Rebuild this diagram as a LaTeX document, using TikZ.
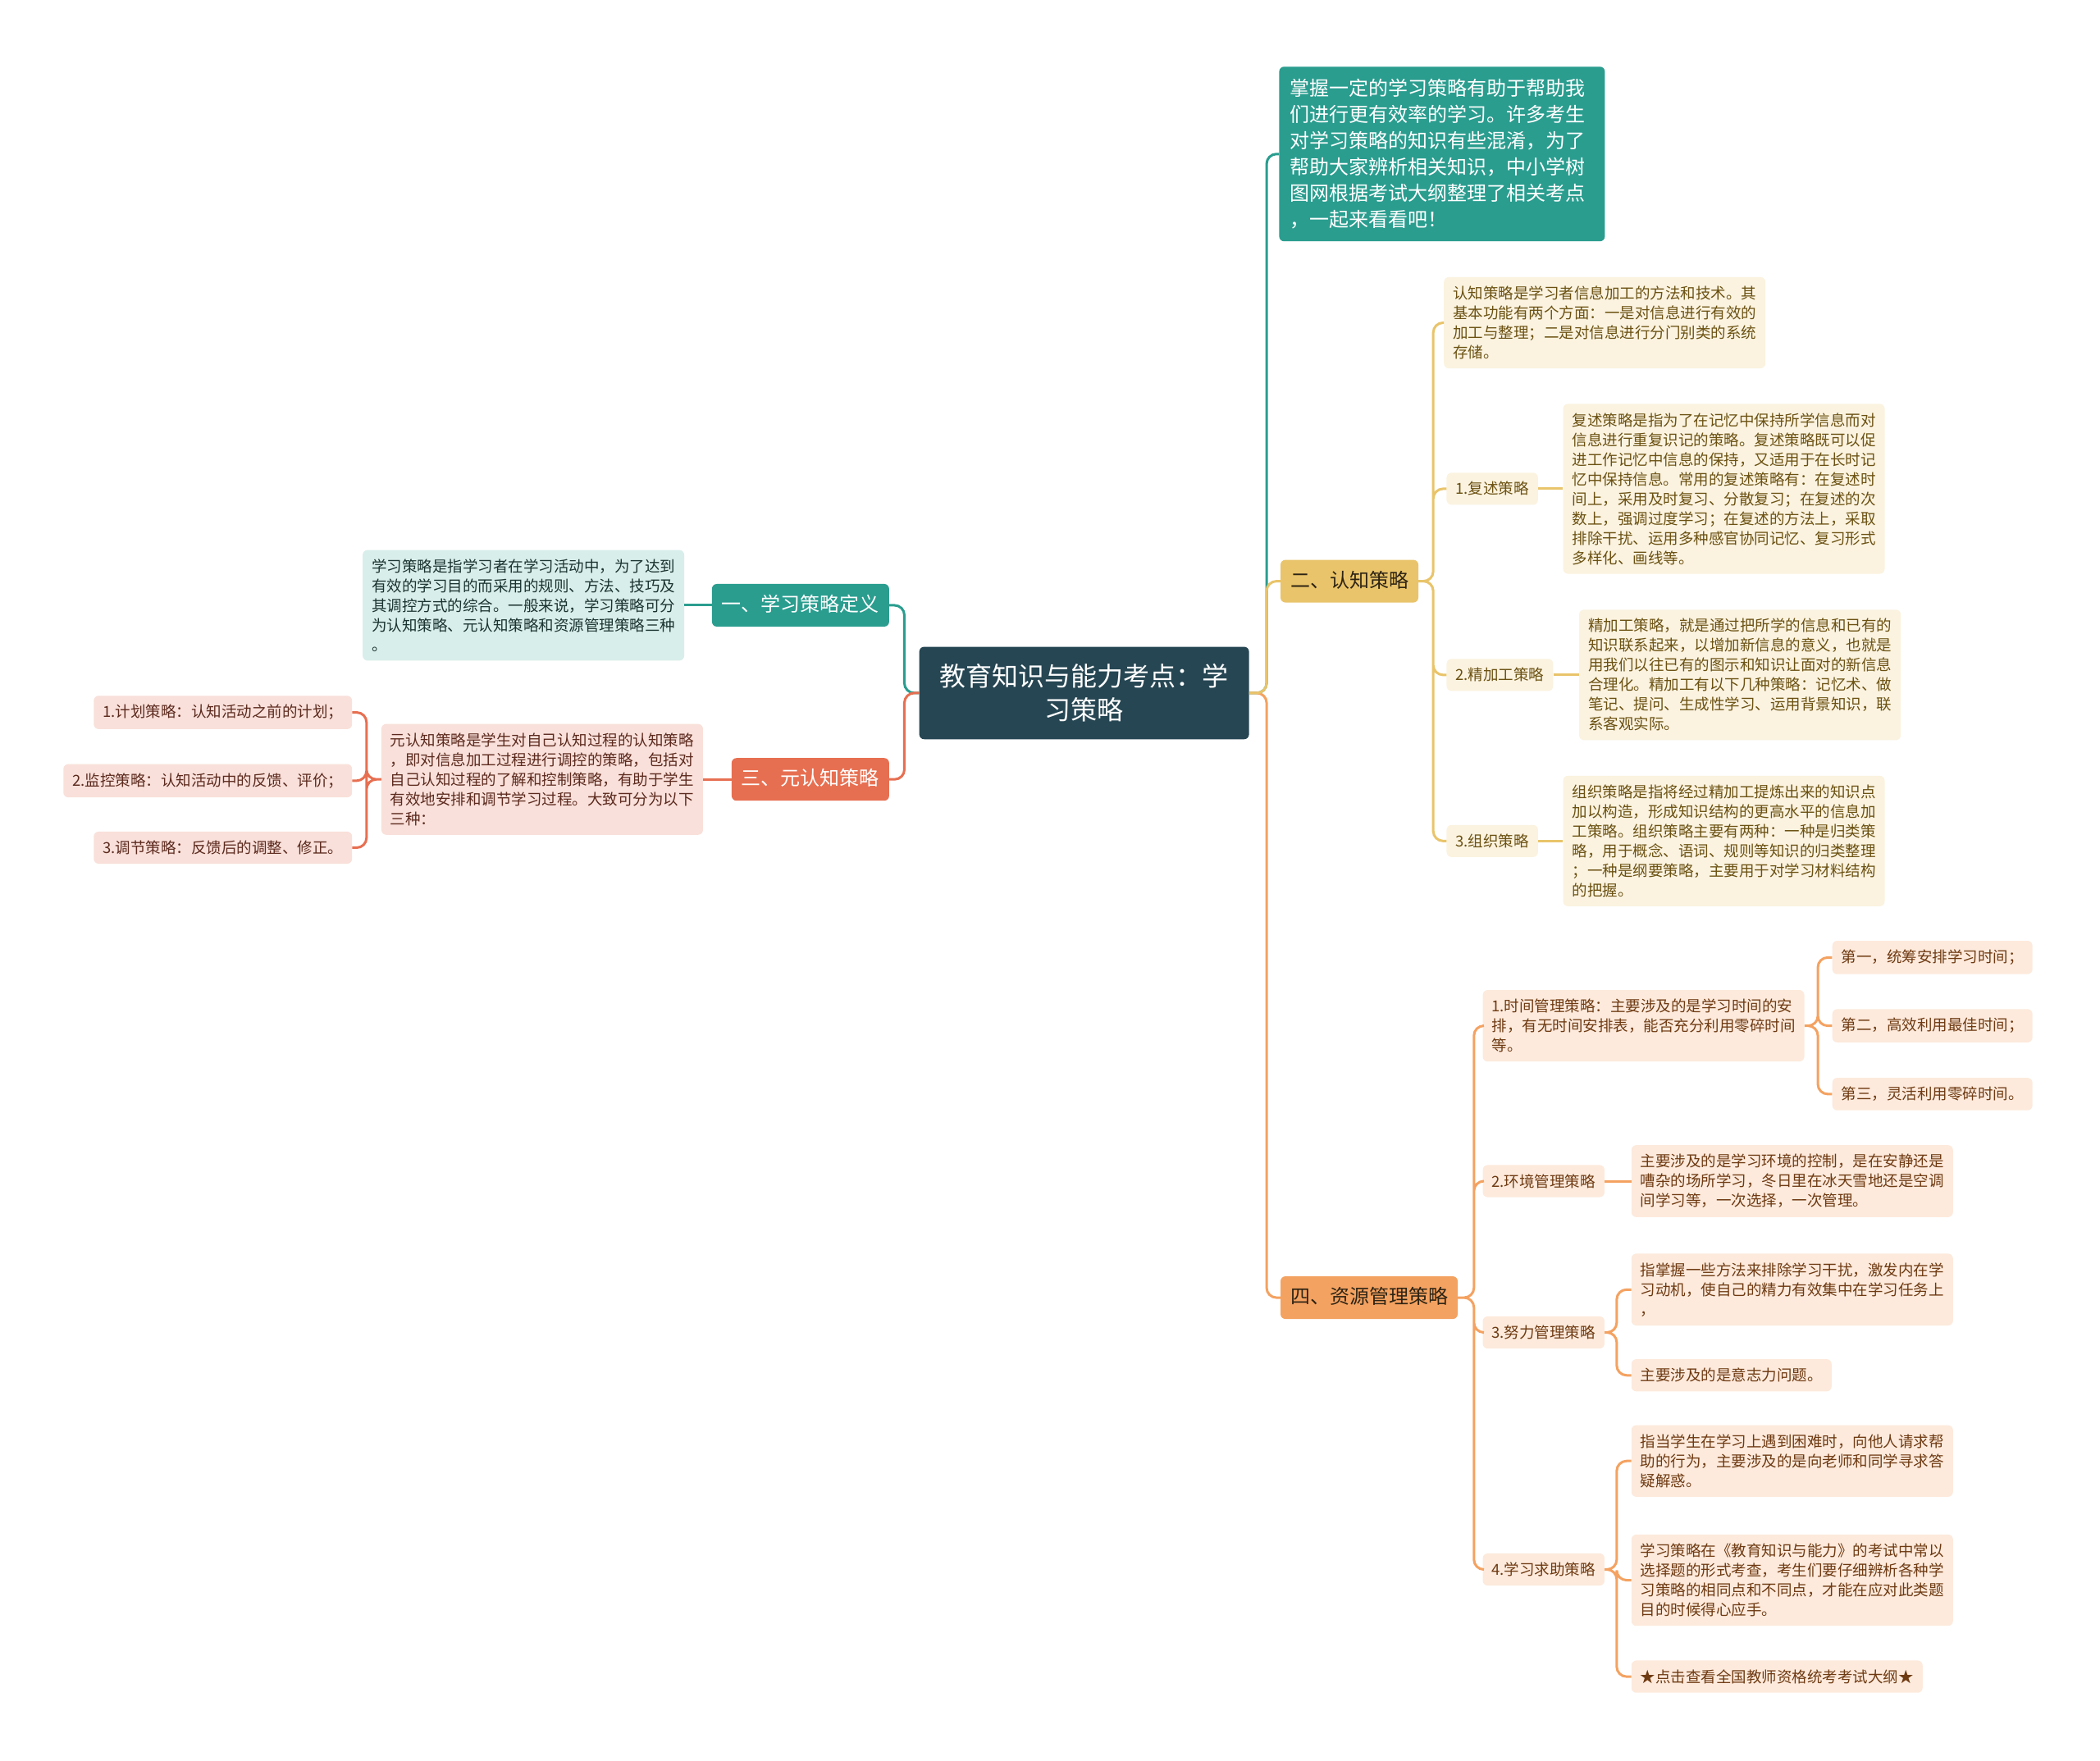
\documentclass[tikz,border=0pt]{standalone}
\usepackage{fontspec}
\setmainfont{Noto Sans CJK SC}
\usepackage{xcolor}
\usepackage{tikz}

\definecolor{slate}{HTML}{264653}
\definecolor{teal0}{HTML}{2A9D8F}
\definecolor{gold0}{HTML}{E9C46A}
\definecolor{orng0}{HTML}{F4A261}
\definecolor{coral0}{HTML}{E76F51}
\definecolor{tealbg}{HTML}{D8EEEB}
\definecolor{goldbg}{HTML}{FBF3E0}
\definecolor{orngbg}{HTML}{FDEADC}
\definecolor{coralbg}{HTML}{F9E0DA}
\definecolor{tealtx}{HTML}{1B3330}
\definecolor{goldtx}{HTML}{6B5112}
\definecolor{orngtx}{HTML}{6E3A12}
\definecolor{coraltx}{HTML}{5C2A1E}
\definecolor{darktx}{HTML}{2E2414}

\begin{document}
\begin{tikzpicture}[x=1.6327pt,y=-1.6327pt,
  box/.style={rounded corners=6pt,align=left,inner xsep=11pt,inner ysep=11pt,font=\fontsize{18.5pt}{24pt}\selectfont},
  main/.style={rounded corners=6pt,inner xsep=12pt,inner ysep=13.5pt,text height=20pt,text depth=5pt,font=\fontsize{24pt}{30pt}\selectfont},
  tealleaf/.style={box,fill=tealbg,text=tealtx},
  goldleaf/.style={box,fill=goldbg,text=goldtx},
  orngleaf/.style={box,fill=orngbg,text=orngtx},
  coralleaf/.style={box,fill=coralbg,text=coraltx},
  link/.style={line width=3pt,rounded corners=12pt}]
        \fill[white] (0,0) rectangle (1568,1315);

        %root
        \node[style={fill=slate,text=white,rounded corners=6pt,align=center,inner xsep=25pt,inner ysep=21pt,font=\fontsize{32pt}{41pt}\selectfont}] (root) at (809.5,517.5) {教育知识与能力考点：学\\习策略};

        %intro note
        \node[style={fill=teal0,text=white,rounded corners=6pt,align=left,text width=371pt,inner xsep=13pt,inner ysep=15pt,font=\fontsize{24pt}{32pt}\selectfont},anchor=west] (top) at (955,115) {掌握一定的学习策略有助于帮助我\\们进行更有效率的学习。许多考生\\对学习策略的知识有些混淆，为了\\帮助大家辨析相关知识，中小学树\\图网根据考试大纲整理了相关考点\\，一起来看看吧！};

        %left: definition
        \node[main,fill=teal0,text=white,anchor=east] (defn) at (664,452) {一、学习策略定义};
        \node[tealleaf,anchor=east] (deftxt) at (511,452) {学习策略是指学习者在学习活动中，为了达到\\有效的学习目的而采用的规则、方法、技巧及\\其调控方式的综合。一般来说，学习策略可分\\为认知策略、元认知策略和资源管理策略三种\\。};

        %left: metacognition
        \node[main,fill=coral0,text=white,anchor=east] (meta) at (664,582) {三、元认知策略};
        \node[coralleaf,anchor=east] (metatxt) at (525,582) {元认知策略是学生对自己认知过程的认知策略\\，即对信息加工过程进行调控的策略，包括对\\自己认知过程的了解和控制策略，有助于学生\\有效地安排和调节学习过程。大致可分为以下\\三种：};
        \node[coralleaf,anchor=east] (plan) at (263,532) {1.计划策略：认知活动之前的计划；};
        \node[coralleaf,anchor=east] (monitor) at (263,583) {2.监控策略：认知活动中的反馈、评价；};
        \node[coralleaf,anchor=east] (adjust) at (263,633) {3.调节策略：反馈后的调整、修正。};

        %right: cognition
        \node[main,fill=gold0,text=darktx,anchor=west] (cog) at (956,434) {二、认知策略};
        \node[goldleaf,anchor=west] (cogtxt) at (1078,241) {认知策略是学习者信息加工的方法和技术。其\\基本功能有两个方面：一是对信息进行有效的\\加工与整理；二是对信息进行分门别类的系统\\存储。};
        \node[goldleaf,anchor=west] (rehe) at (1080,365) {1.复述策略};
        \node[goldleaf,anchor=west] (rehetxt) at (1167,365) {复述策略是指为了在记忆中保持所学信息而对\\信息进行重复识记的策略。复述策略既可以促\\进工作记忆中信息的保持，又适用于在长时记\\忆中保持信息。常用的复述策略有：在复述时\\间上，采用及时复习、分散复习；在复述的次\\数上，强调过度学习；在复述的方法上，采取\\排除干扰、运用多种感官协同记忆、复习形式\\多样化、画线等。};
        \node[goldleaf,anchor=west] (elab) at (1080,504) {2.精加工策略};
        \node[goldleaf,anchor=west] (elabtxt) at (1179,504) {精加工策略，就是通过把所学的信息和已有的\\知识联系起来，以增加新信息的意义，也就是\\用我们以往已有的图示和知识让面对的新信息\\合理化。精加工有以下几种策略：记忆术、做\\笔记、提问、生成性学习、运用背景知识，联\\系客观实际。};
        \node[goldleaf,anchor=west] (orga) at (1080,628) {3.组织策略};
        \node[goldleaf,anchor=west] (orgatxt) at (1167,628) {组织策略是指将经过精加工提炼出来的知识点\\加以构造，形成知识结构的更高水平的信息加\\工策略。组织策略主要有两种：一种是归类策\\略，用于概念、语词、规则等知识的归类整理\\；一种是纲要策略，主要用于对学习材料结构\\的把握。};

        %right: resource management
        \node[main,fill=orng0,text=darktx,anchor=west] (res) at (956,969) {四、资源管理策略};
        \node[orngleaf,anchor=west] (time) at (1107,766) {1.时间管理策略：主要涉及的是学习时间的安\\排，有无时间安排表，能否充分利用零碎时间\\等。};
        \node[orngleaf,anchor=west] (t1) at (1368,715) {第一，统筹安排学习时间；};
        \node[orngleaf,anchor=west] (t2) at (1368,766) {第二，高效利用最佳时间；};
        \node[orngleaf,anchor=west] (t3) at (1368,817) {第三，灵活利用零碎时间。};
        \node[orngleaf,anchor=west] (env) at (1107,882) {2.环境管理策略};
        \node[orngleaf,anchor=west] (envtxt) at (1218,882) {主要涉及的是学习环境的控制，是在安静还是\\嘈杂的场所学习，冬日里在冰天雪地还是空调\\间学习等，一次选择，一次管理。};
        \node[orngleaf,anchor=west] (eff) at (1107,995) {3.努力管理策略};
        \node[orngleaf,anchor=west] (eff1) at (1218,963) {指掌握一些方法来排除学习干扰，激发内在学\\习动机，使自己的精力有效集中在学习任务上\\，};
        \node[orngleaf,anchor=west] (eff2) at (1218,1027) {主要涉及的是意志力问题。};
        \node[orngleaf,anchor=west] (help) at (1107,1172) {4.学习求助策略};
        \node[orngleaf,anchor=west] (h1) at (1218,1091) {指当学生在学习上遇到困难时，向他人请求帮\\助的行为，主要涉及的是向老师和同学寻求答\\疑解惑。};
        \node[orngleaf,anchor=west] (h2) at (1218,1180) {学习策略在《教育知识与能力》的考试中常以\\选择题的形式考查，考生们要仔细辨析各种学\\习策略的相同点和不同点，才能在应对此类题\\目的时候得心应手。};
        \node[orngleaf,anchor=west] (h3) at (1218,1252) {★点击查看全国教师资格统考考试大纲★};

        %links
        \draw[link,teal0] (root.east) -- ++(13,0) |- (top.west);
        \draw[link,orng0] (root.east) -- ++(13,0) |- (res.west);
        \draw[link,gold0] (root.east) -- ++(13,0) |- (cog.west);
        \draw[link,teal0] (root.west) -- ++(-11,0) |- (defn.east);
        \draw[link,coral0] (root.west) -- ++(-11,0) |- (meta.east);
        \draw[link,teal0] (defn.west) -- (deftxt.east);
        \draw[link,coral0] (meta.west) -- (metatxt.east);
        \draw[link,coral0] (metatxt.west) -- ++(-11,0) |- (plan.east) (metatxt.west) -- ++(-11,0) |- (monitor.east) (metatxt.west) -- ++(-11,0) |- (adjust.east);
        \draw[link,gold0] (cog.east) -- ++(11,0) |- (cogtxt.west) (cog.east) -- ++(11,0) |- (rehe.west) (cog.east) -- ++(11,0) |- (elab.west) (cog.east) -- ++(11,0) |- (orga.west);
        \draw[link,gold0] (rehe.east) -- (rehetxt.west) (elab.east) -- (elabtxt.west) (orga.east) -- (orgatxt.west);
        \draw[link,orng0] (res.east) -- ++(12,0) |- (time.west) (res.east) -- ++(12,0) |- (env.west) (res.east) -- ++(12,0) |- (eff.west) (res.east) -- ++(12,0) |- (help.west);
        \draw[link,orng0] (time.east) -- ++(10,0) |- (t1.west) (time.east) -- ++(10,0) |- (t2.west) (time.east) -- ++(10,0) |- (t3.west);
        \draw[link,orng0] (env.east) -- (envtxt.west);
        \draw[link,orng0] (eff.east) -- ++(9,0) |- (eff1.west) (eff.east) -- ++(9,0) |- (eff2.west);
        \draw[link,orng0] (help.east) -- ++(9,0) |- (h1.west) (help.east) -- ++(9,0) |- (h2.west) (help.east) -- ++(9,0) |- (h3.west);
\end{tikzpicture}
\end{document}
